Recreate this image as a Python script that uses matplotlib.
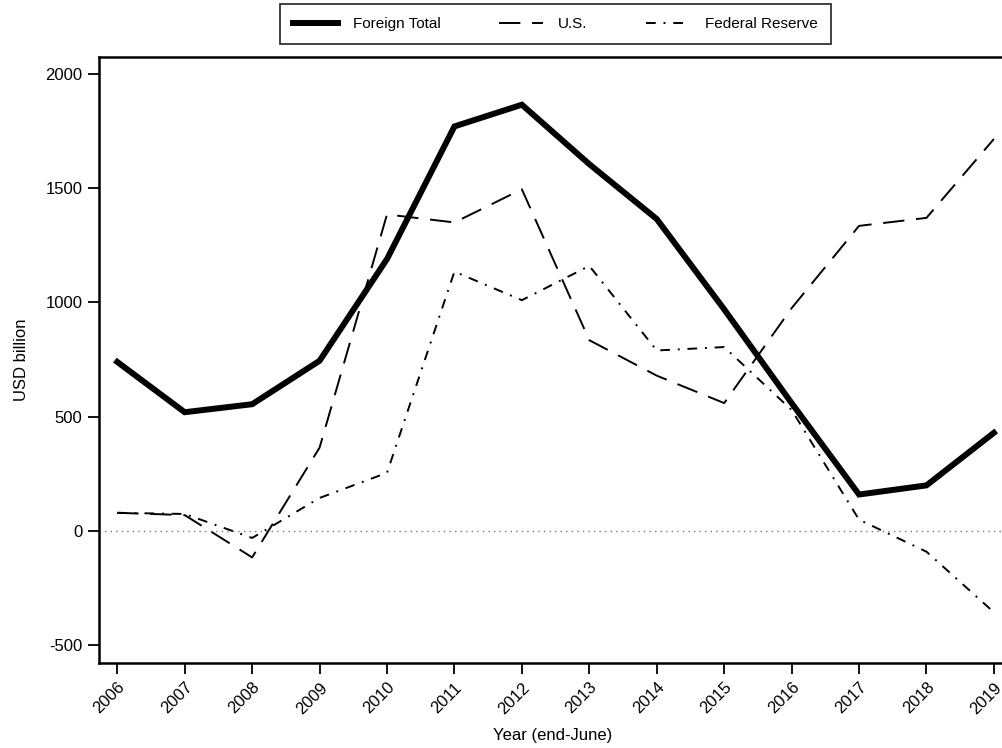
import matplotlib
matplotlib.use('Agg')
import matplotlib.pyplot as plt

plt.rcParams['font.family'] = ['Liberation Sans', 'DejaVu Sans']

# values (USD billion, end-June)
years = list(range(2006, 2020))
foreign_total = [740, 520, 555, 745, 1190, 1770, 1865, 1605, 1365, 970, 560, 160, 200, 430]
us = [80, 70, -115, 365, 1385, 1350, 1495, 835, 680, 560, 975, 1335, 1370, 1715]
fed_reserve = [80, 75, -30, 145, 255, 1135, 1010, 1160, 790, 805, 530, 50, -90, -355]

fig = plt.figure(figsize=(10.03, 7.48), dpi=100)
ax = fig.add_axes([0.0987, 0.1136, 0.905, 0.81])

ax.axhline(0, color='#777777', linestyle=(0, (1, 3)), linewidth=1)
ax.plot(years, foreign_total, color='black', linewidth=4.3, label='Foreign Total',
        solid_joinstyle='miter')
ax.plot(years, us, color='black', linewidth=1.4, dashes=(11, 6), label='U.S.')
ax.plot(years, fed_reserve, color='black', linewidth=1.4, dashes=(5, 4, 1, 4),
        label='Federal Reserve')

ax.set_xlim(2005.729, 2019.19)
ax.set_ylim(-577, 2073)
ax.set_xticks(years)
ax.set_xticklabels([str(y) for y in years], rotation=45, ha='right',
                   rotation_mode='anchor', fontsize=12)
ax.set_yticks([-500, 0, 500, 1000, 1500, 2000])
ax.set_yticklabels(['-500', '0', '500', '1000', '1500', '2000'], fontsize=12)
ax.tick_params(direction='out', length=8, width=1.3, pad=4)

for s in ax.spines.values():
    s.set_linewidth(1.8)

ax.set_xlabel('Year (end-June)', fontsize=12, labelpad=8)
ax.set_ylabel('USD billion', fontsize=12, labelpad=12)

leg = ax.legend(loc='upper center', bbox_to_anchor=(0.503, 1.1), ncol=3,
                frameon=True, fancybox=False, edgecolor='black', fontsize=11,
                handlelength=2.9, handletextpad=1.0, columnspacing=3.8,
                borderpad=0.85)
leg.get_frame().set_linewidth(1.3)

fig.savefig('out.png', dpi=100)
